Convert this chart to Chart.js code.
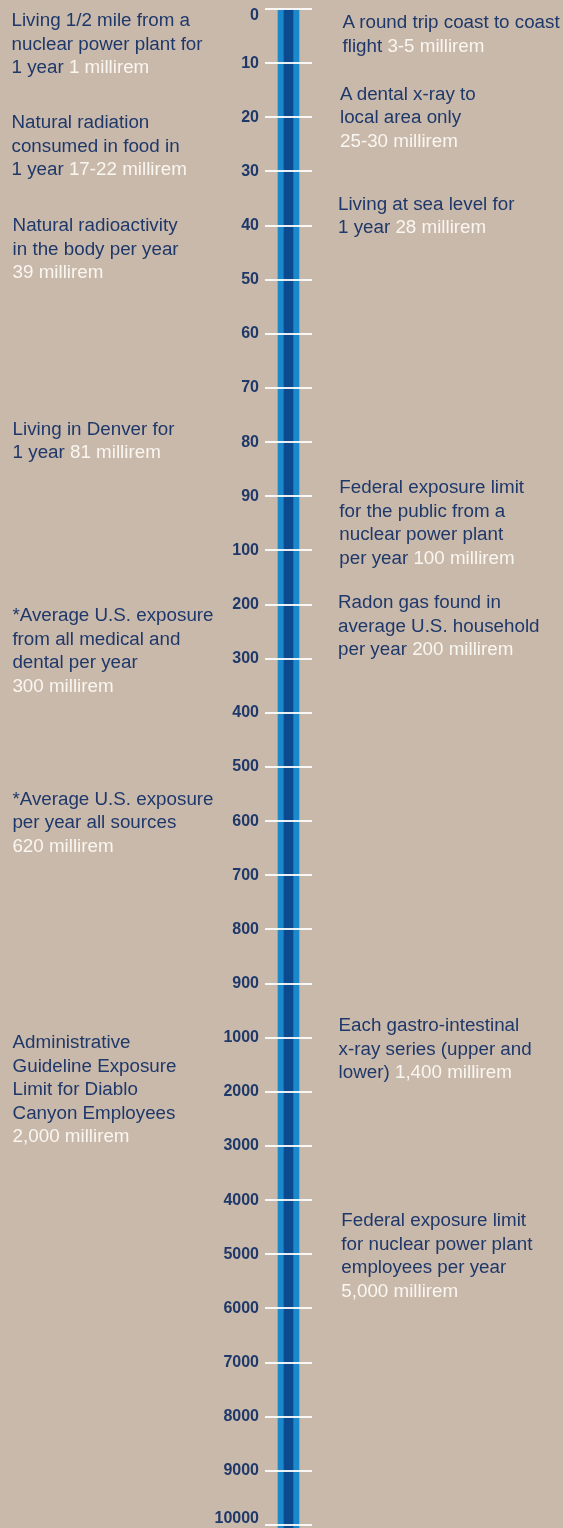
<!DOCTYPE html>
<html>
<head>
<meta charset="utf-8">
<script src="https://cdn.jsdelivr.net/npm/chart.js@4.4.1/dist/chart.umd.min.js"></script>
<style>
  html, body { margin: 0; padding: 0; background: #c9b9ab; }
  #wrap { position: relative; width: 563px; height: 1528px; overflow: hidden; background: #c9b9ab; }
  #c { position: absolute; left: 0; top: 0; }
  .note { position: absolute; font-family: 'Liberation Sans', Arial, sans-serif; font-size: 18.8px;
          line-height: 23.5px; color: #1f386a; white-space: nowrap; }
  .note .v { color: #faf6f0; }
</style>
</head>
<body>
<div id="wrap">
  <canvas id="c" width="563" height="1528"></canvas>
</div>
<script>
// ---- data ----
const tickLabels = ["0","10","20","30","40","50","60","70","80","90",
  "100","200","300","400","500","600","700","800","900",
  "1000","2000","3000","4000","5000","6000","7000","8000","9000","10000"];
const barSpan = [0, 28.3];

const leftTexts = [
  ["Living 1/2 mile from a", "nuclear power plant for", "1 year "],
  ["Natural radiation", "consumed in food in", "1 year "],
  ["Natural radioactivity", "in the body per year", ""],
  ["Living in Denver for", "1 year "],
  ["*Average U.S. exposure", "from all medical and", "dental per year", ""],
  ["*Average U.S. exposure", "per year all sources", ""],
  ["Administrative", "Guideline Exposure", "Limit for Diablo", "Canyon Employees", ""]
];
const leftValues = ["1 millirem", "17-22 millirem", "39 millirem", "81 millirem",
  "300 millirem", "620 millirem", "2,000 millirem"];

const rightTexts = [
  ["A round trip coast to coast", "flight "],
  ["A dental x-ray to", "local area only", ""],
  ["Living at sea level for", "1 year "],
  ["Federal exposure limit", "for the public from a", "nuclear power plant", "per year "],
  ["Radon gas found in", "average U.S. household", "per year "],
  ["Each gastro-intestinal", "x-ray series (upper and", "lower) "],
  ["Federal exposure limit", "for nuclear power plant", "employees per year", ""]
];
const rightValues = ["3-5 millirem", "25-30 millirem", "28 millirem", "100 millirem",
  "200 millirem", "1,400 millirem", "5,000 millirem"];

// ---- layout (pixel positions of text blocks) ----
const leftPos = [[11.5, 8.4], [11.5, 110], [12.6, 213.4], [12.6, 416.7], [12.4, 603.4], [12.4, 786.7], [12.6, 1030]];
const rightPos = [[342.5, 10], [340, 81.7], [338, 191.7], [339.3, 475], [338, 590], [338.6, 1013.4], [341.3, 1208.4]];

function addNotes(texts, values, pos) {
  const wrap = document.getElementById('wrap');
  texts.forEach((lines, i) => {
    const d = document.createElement('div');
    d.className = 'note';
    d.style.left = pos[i][0] + 'px';
    d.style.top = pos[i][1] + 'px';
    lines.forEach((ln, j) => {
      const row = document.createElement('div');
      row.appendChild(document.createTextNode(ln));
      if (j === lines.length - 1) {
        const s = document.createElement('span');
        s.className = 'v';
        s.textContent = values[i];
        row.appendChild(s);
      }
      d.appendChild(row);
    });
    wrap.appendChild(d);
  });
}
addNotes(leftTexts, leftValues, leftPos);
addNotes(rightTexts, rightValues, rightPos);

// ---- chart ----
const navy = '#1f386a';
const lastIdx = tickLabels.length - 1;
new Chart(document.getElementById('c'), {
  type: 'bar',
  data: {
    labels: [''],
    datasets: [
      { data: [barSpan], backgroundColor: '#0b4a8e', barThickness: 9, order: 0, clip: false, borderWidth: 0 },
      { data: [barSpan], backgroundColor: '#1b88cc', barThickness: 21, order: 1, clip: false, borderWidth: 0 }
    ]
  },
  options: {
    responsive: false,
    animation: false,
    events: [],
    layout: { padding: { left: 185, right: 251, top: 9, bottom: 3 } },
    plugins: { legend: { display: false }, tooltip: { enabled: false } },
    datasets: { bar: { grouped: false } },
    scales: {
      x: { display: false },
      y: {
        type: 'linear',
        reverse: true,
        min: 0,
        max: lastIdx,
        z: 1,
        border: { display: false },
        grid: { color: 'rgba(255,255,255,0.9)', lineWidth: 2, drawTicks: false, z: 1 },
        ticks: {
          stepSize: 1,
          autoSkip: false,
          padding: 6,
          color: navy,
          z: 2,
          font: { family: "'Liberation Sans', Arial, sans-serif", size: 16, weight: 'bold', lineHeight: 0.8 },
          callback: function (v) {
            const lbl = tickLabels[v];
            if (v === 0) return ['', lbl];
            if (v === lastIdx) return [lbl, ''];
            return lbl;
          }
        },
        afterFit: function (s) { s.width = 80; s.paddingTop = 0; s.paddingBottom = 0; }
      }
    }
  }
});
</script>
</body>
</html>
